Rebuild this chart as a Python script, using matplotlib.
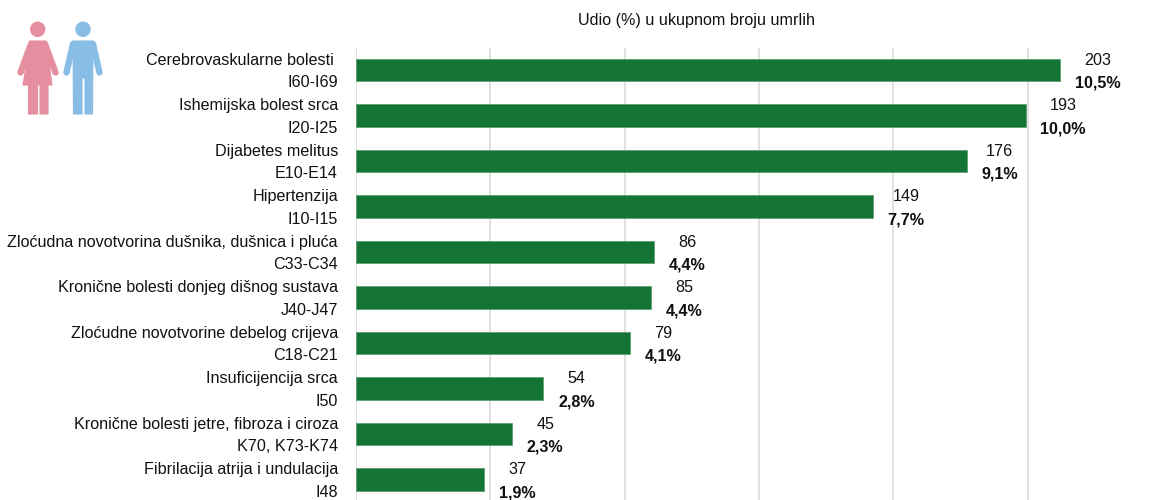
import matplotlib
matplotlib.use("Agg")
import matplotlib.pyplot as plt
from matplotlib.patches import Circle, Polygon
from matplotlib.transforms import ScaledTranslation

plt.rcParams['font.family'] = ['Liberation Sans', 'DejaVu Sans']

# diagnoses, top to bottom
names = ["Cerebrovaskularne bolesti ", "Ishemijska bolest srca", "Dijabetes melitus", "Hipertenzija",
         "Zloćudna novotvorina dušnika, dušnica i pluća", "Kronične bolesti donjeg dišnog sustava",
         "Zloćudne novotvorine debelog crijeva", "Insuficijencija srca",
         "Kronične bolesti jetre, fibroza i ciroza", "Fibrilacija atrija i undulacija"]
codes = ["I60-I69", "I20-I25", "E10-E14", "I10-I15", "C33-C34", "J40-J47", "C18-C21", "I50", "K70, K73-K74", "I48"]
counts = [203, 193, 176, 149, 86, 85, 79, 54, 45, 37]
share_labels = ["10,5%", "10,0%", "9,1%", "7,7%", "4,4%", "4,4%", "4,1%", "2,8%", "2,3%", "1,9%"]
total_deaths = 1935
grid_ticks = [0, 2, 4, 6, 8, 10]

shares = [c / total_deaths * 100 for c in counts]

W, H = 1157, 500
fig = plt.figure(figsize=(W / 100, H / 100), dpi=100)
ax = fig.add_axes([356 / W, 0, 1 - 356 / W, (H - 48) / H])

ypos = list(range(len(counts)))
ax.barh(ypos, shares, height=0.49, color="#147434", edgecolor="#5d9f74", linewidth=0.6, zorder=3)

ax.set_xlim(0, (W - 356) / 67.15)
ax.set_ylim(9.45, -0.484)
ax.set_xticks(grid_ticks)
ax.tick_params(axis='x', length=0, labelbottom=False)
ax.tick_params(axis='y', length=0, pad=13)
ax.grid(axis='x', color="#d9d9d9", linewidth=1.1, zorder=0)
for s in ax.spines.values():
    s.set_visible(False)

ax.set_yticks(ypos)
ax.set_yticklabels([n + "\n" + c for n, c in zip(names, codes)], fontsize=11.6, ha='right',
                   linespacing=1.66, color="#111111")
# labels sit a bit above the bar centre in the original
up = ScaledTranslation(0, 4 / 100, fig.dpi_scale_trans)
for lab in ax.get_yticklabels():
    lab.set_transform(lab.get_transform() + up)

for y, v, c, p in zip(ypos, shares, counts, share_labels):
    xoff = 0.72 * (37 if len(p) > 4 else 33)  # wider label, centre moves right
    ax.annotate(str(c), (v, y), xytext=(xoff, 7.0), textcoords='offset points',
                ha='center', va='center', fontsize=11.6, color="#111111", annotation_clip=False)
    ax.annotate(p, (v, y), xytext=(xoff, -9.5), textcoords='offset points',
                ha='center', va='center', fontsize=11.6, fontweight='bold', color="#111111",
                annotation_clip=False)

fig.text(697 / W, 1 - 21 / H, "Udio (%) u ukupnom broju umrlih", ha='center', va='center',
         fontsize=11.6, color="#111111")

# people icon, drawn in figure pixels
icon = fig.add_axes([0, 0, 1, 1], facecolor='none')
icon.set_xlim(0, W)
icon.set_ylim(H, 0)
icon.axis('off')
pink, blue = "#e58e9f", "#88bde6"


def arm(x0, y0, x1, y1, col):
    icon.plot([x0, x1], [y0, y1], color=col, lw=4.6, solid_capstyle='round')


icon.add_patch(Circle((37.7, 29.3), 7.7, color=pink, lw=0))
icon.add_patch(Polygon([(30, 41), (46, 41), (52, 85), (48, 85), (48, 114), (40, 114), (40, 85), (37.5, 85),
                        (37.5, 114), (28.5, 114), (28.5, 85), (23, 85)],
                       closed=True, fc=pink, ec=pink, lw=0.8, joinstyle='round'))
arm(31, 44, 20.5, 72.5, pink)
arm(45, 44, 55.5, 72.5, pink)
icon.add_patch(Circle((83, 29.3), 7.7, color=blue, lw=0))
icon.add_patch(Polygon([(73, 41), (93, 41), (92.5, 114), (85, 114), (85, 78), (82, 78), (82, 114), (73.5, 114)],
                       closed=True, fc=blue, ec=blue, lw=0.8, joinstyle='round'))
arm(73, 44, 66.5, 72.5, blue)
arm(93, 44, 99.5, 72.5, blue)

fig.savefig("out.png", dpi=100)
